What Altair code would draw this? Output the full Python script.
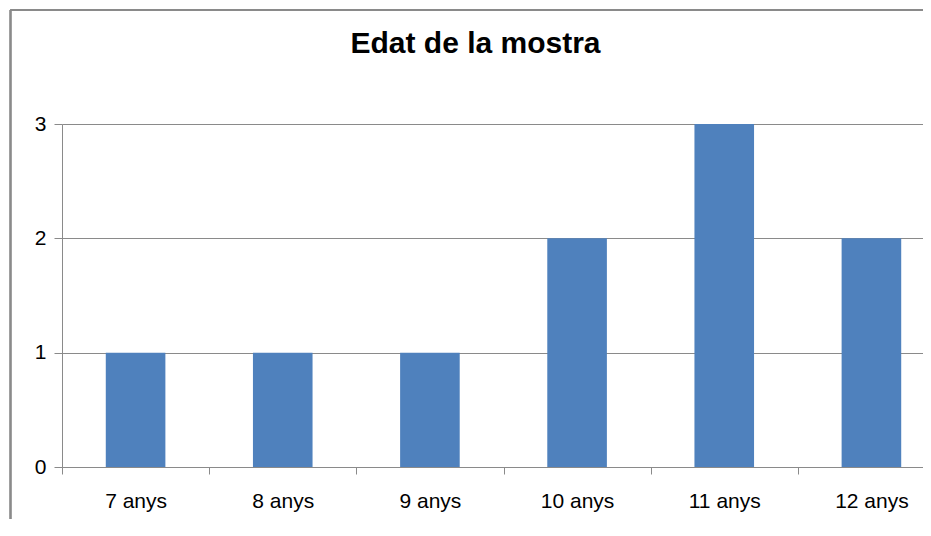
import altair as alt
import pandas as pd

categories = ["7 anys", "8 anys", "9 anys", "10 anys", "11 anys", "12 anys"]
values = [1, 1, 1, 2, 3, 2]
y_ticks = [0, 1, 2, 3]
title_text = "Edat de la mostra"

df = pd.DataFrame({"edat": categories, "n": values})

FONT = "Liberation Sans"
GRAY = "#8a8a8a"

bars = alt.Chart(df).mark_bar(
    color="#4F81BD", width=alt.RelativeBandSize(0.405)
).encode(
    x=alt.X(
        "edat:N",
        sort=categories,
        title=None,
        scale=alt.Scale(range=[0, 883], paddingInner=0, paddingOuter=0),
        axis=alt.Axis(
            labelAngle=0,
            tickBand="extent",
            tickSize=7,
            tickColor=GRAY,
            domainColor=GRAY,
            labelFont=FONT,
            labelFontSize=21,
            labelColor="#000000",
            labelPadding=16,
            grid=False,
        ),
    ),
    y=alt.Y(
        "n:Q",
        title=None,
        scale=alt.Scale(domain=[0, 3], nice=False),
        axis=alt.Axis(
            values=y_ticks,
            format="d",
            tickSize=8,
            tickColor=GRAY,
            domainColor=GRAY,
            gridColor=GRAY,
            gridWidth=1,
            labelFont=FONT,
            labelFontSize=21,
            labelColor="#000000",
            labelPadding=8,
        ),
    ),
)

border_left = alt.Chart(df).mark_rule(color=GRAY, strokeWidth=1.5).encode(
    x=alt.value(-51.5), y=alt.value(-114), y2=alt.value(420)
)
border_top = alt.Chart(df).mark_rule(color=GRAY, strokeWidth=1.5).encode(
    x=alt.value(-51.5), x2=alt.value(880), y=alt.value(-114)
)

chart = (
    alt.layer(bars, border_left, border_top)
    .properties(
        width=861,
        height=343,
        title=alt.TitleParams(
            title_text,
            font=FONT,
            fontSize=30,
            fontWeight="bold",
            color="#000000",
            anchor="middle",
            dx=-17,
            offset=-50,
        ),
        autosize=alt.AutoSizeParams(type="none"),
        padding={"left": 54, "top": 116, "right": 0, "bottom": 52},
    )
    .configure_view(stroke=None)
)

chart.save("out.html", embed_options={"renderer": "svg", "actions": False})
